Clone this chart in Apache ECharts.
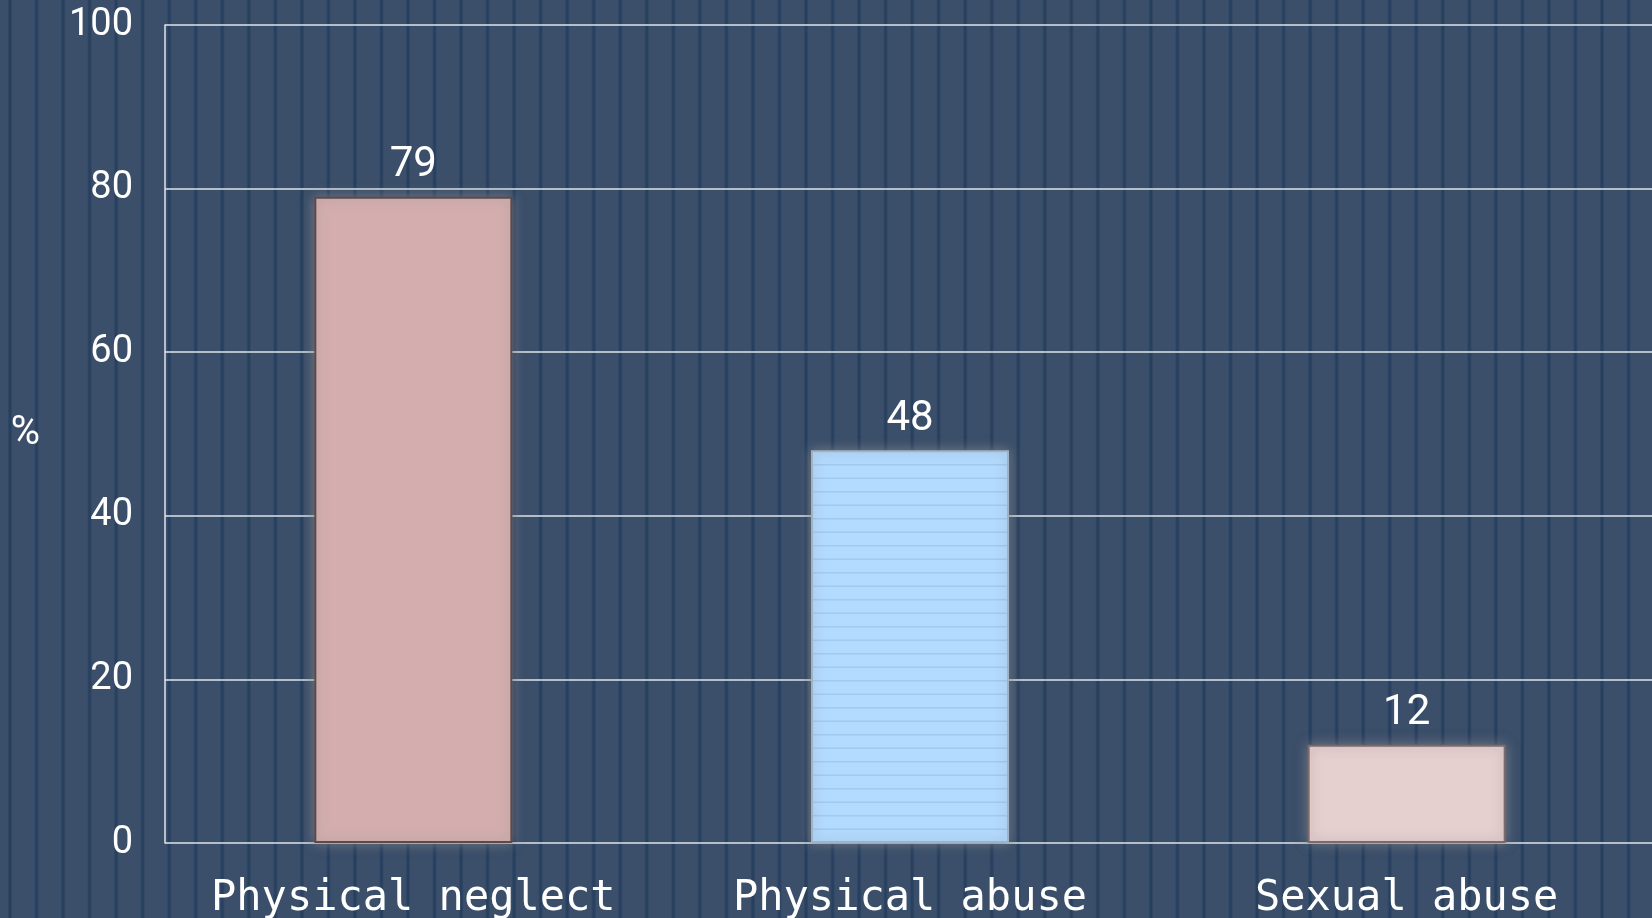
<!DOCTYPE html>
<html>
<head>
<meta charset="utf-8">
<script src="https://cdn.jsdelivr.net/npm/echarts@6/dist/echarts.min.js"></script>
<style>
  html, body { margin: 0; padding: 0; }
  #chart { width: 1652px; height: 918px; }
</style>
</head>
<body>
<div id="chart"></div>
<script>
// data
var categories = ['Physical neglect', 'Physical abuse', 'Sexual abuse'];
var values = [79, 48, 12];
var yMin = 0, yMax = 100, yStep = 20;
var yName = '%';

// background: slate with thin dark vertical stripes
function bgPattern() {
    var w = 398, n = 15;
    var c = document.createElement('canvas');
    c.width = w; c.height = 4;
    var ctx = c.getContext('2d');
    ctx.fillStyle = '#3b4f6a';
    ctx.fillRect(0, 0, w, 4);
    for (var k = 0; k < n; k++) {
        var x = 10 + k * w / n;
        ctx.fillStyle = 'rgba(30,56,90,0.35)';
        ctx.fillRect(x - 2, 0, 4, 4);
        ctx.fillStyle = 'rgba(30,56,90,0.45)';
        ctx.fillRect(x - 1, 0, 2, 4);
    }
    return c;
}

// light blue with faint horizontal lines
function bluePattern() {
    var c = document.createElement('canvas');
    c.width = 4; c.height = 27;
    var ctx = c.getContext('2d');
    ctx.fillStyle = '#b3dbff';
    ctx.fillRect(0, 0, 4, 27);
    ctx.fillStyle = '#a2c9ee';
    ctx.fillRect(0, 5, 4, 1.5);
    ctx.fillRect(0, 18.5, 4, 1.5);
    return c;
}

var barFill = ['#d4aeae', {image: bluePattern(), repeat: 'repeat'}, '#e6cfcf'];
var barBorder = ['#5e4a4a', '#9fb3c6', '#7e6a6a'];

var chart = echarts.init(document.getElementById('chart'));

var seriesData = [];
for (var i = 0; i < values.length; i++) {
    seriesData.push({
        value: values[i],
        itemStyle: {
            color: barFill[i],
            borderColor: barBorder[i],
            borderWidth: 2,
            shadowColor: 'rgba(135,135,140,0.75)',
            shadowBlur: 12
        }
    });
}

var option = {
    backgroundColor: {image: bgPattern(), repeat: 'repeat'},
    grid: {left: 165, right: -3, top: 25, bottom: 75, containLabel: false, outerBoundsMode: 'none'},
    xAxis: {
        type: 'category',
        data: categories,
        axisLine: {show: false},
        axisTick: {show: false},
        axisLabel: {
            interval: 0,
            hideOverlap: false,
            color: '#ffffff',
            fontFamily: 'DejaVu Sans Mono',
            fontSize: 42,
            margin: 35
        }
    },
    yAxis: {
        type: 'value',
        min: yMin,
        max: yMax,
        interval: yStep,
        name: yName,
        nameLocation: 'middle',
        nameGap: 125,
        nameRotate: 0,
        nameTextStyle: {color: '#ffffff', fontFamily: 'Roboto', fontSize: 40},
        axisLine: {show: true, lineStyle: {color: '#dfe4ea', width: 1.5}},
        axisTick: {show: false},
        axisLabel: {color: '#ffffff', fontFamily: 'Roboto', fontSize: 38, margin: 32},
        splitLine: {show: true, lineStyle: {color: '#dfe4ea', width: 1.5}}
    },
    series: [{
        type: 'bar',
        data: seriesData,
        barWidth: 198,
        label: {
            show: true,
            position: 'top',
            distance: 10,
            color: '#ffffff',
            fontFamily: 'Roboto',
            fontSize: 42
        }
    }]
};

chart.setOption(option);
</script>
</body>
</html>
